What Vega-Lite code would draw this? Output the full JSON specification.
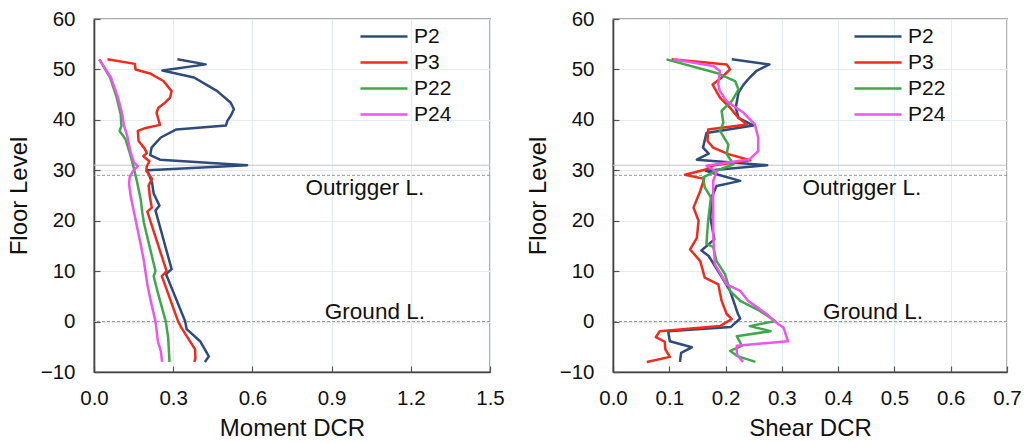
{
  "$schema": "https://vega.github.io/schema/vega-lite/v6.json",
  "background": "white",
  "padding": {"left": 6, "top": 8, "right": 0, "bottom": 2},
  "config": {
    "font": "Liberation Sans",
    "view": {"stroke": "#555555", "strokeWidth": 1.3},
    "axis": {
      "domainColor": "#444444",
      "domainWidth": 1.6,
      "tickColor": "#555555",
      "tickSize": -6,
      "tickWidth": 1.2,
      "gridColor": "#e4eef0",
      "gridWidth": 1,
      "labelFlush": false,
      "labelOverlap": false,
      "labelFontSize": 20.5,
      "labelColor": "#111111",
      "titleFontSize": 24,
      "titleFontWeight": "normal",
      "titleColor": "#111111"
    },
    "legend": {
      "labelFontSize": 21,
      "labelColor": "#111111",
      "symbolType": "M-2.24,0H2.24",
      "symbolSize": 441,
      "symbolStrokeWidth": 2.5,
      "labelOffset": 18,
      "rowPadding": 4,
      "padding": 0
    }
  },
  "datasets": {
    "moment": [
      {"s": "P2", "lv": 52, "v": 0.316}, {"s": "P2", "lv": 51, "v": 0.423}, {"s": "P2", "lv": 49.8, "v": 0.259},
      {"s": "P2", "lv": 48.4, "v": 0.379}, {"s": "P2", "lv": 47, "v": 0.425}, {"s": "P2", "lv": 45.7, "v": 0.467},
      {"s": "P2", "lv": 43.4, "v": 0.518}, {"s": "P2", "lv": 42.1, "v": 0.53}, {"s": "P2", "lv": 40.8, "v": 0.518},
      {"s": "P2", "lv": 39.8, "v": 0.505}, {"s": "P2", "lv": 38.9, "v": 0.5}, {"s": "P2", "lv": 38.1, "v": 0.312},
      {"s": "P2", "lv": 36.5, "v": 0.253}, {"s": "P2", "lv": 34.5, "v": 0.218}, {"s": "P2", "lv": 33, "v": 0.213},
      {"s": "P2", "lv": 32.1, "v": 0.25}, {"s": "P2", "lv": 31, "v": 0.58}, {"s": "P2", "lv": 30, "v": 0.202},
      {"s": "P2", "lv": 27.5, "v": 0.22}, {"s": "P2", "lv": 25.4, "v": 0.226}, {"s": "P2", "lv": 23, "v": 0.248},
      {"s": "P2", "lv": 22, "v": 0.233}, {"s": "P2", "lv": 10.4, "v": 0.294}, {"s": "P2", "lv": 9.4, "v": 0.273},
      {"s": "P2", "lv": 0.1, "v": 0.345}, {"s": "P2", "lv": -1.5, "v": 0.351}, {"s": "P2", "lv": -3.9, "v": 0.402},
      {"s": "P2", "lv": -6.9, "v": 0.435}, {"s": "P2", "lv": -8, "v": 0.42},

      {"s": "P3", "lv": 52, "v": 0.051}, {"s": "P3", "lv": 51.1, "v": 0.155}, {"s": "P3", "lv": 50, "v": 0.157},
      {"s": "P3", "lv": 49.2, "v": 0.212}, {"s": "P3", "lv": 47.7, "v": 0.263}, {"s": "P3", "lv": 45.7, "v": 0.294},
      {"s": "P3", "lv": 44.4, "v": 0.288}, {"s": "P3", "lv": 43.4, "v": 0.269}, {"s": "P3", "lv": 42.4, "v": 0.244},
      {"s": "P3", "lv": 41.4, "v": 0.237}, {"s": "P3", "lv": 40.1, "v": 0.244}, {"s": "P3", "lv": 39, "v": 0.25},
      {"s": "P3", "lv": 38.4, "v": 0.196}, {"s": "P3", "lv": 37.8, "v": 0.166}, {"s": "P3", "lv": 35.8, "v": 0.169},
      {"s": "P3", "lv": 34.3, "v": 0.192}, {"s": "P3", "lv": 33.4, "v": 0.2}, {"s": "P3", "lv": 32.8, "v": 0.187},
      {"s": "P3", "lv": 31.8, "v": 0.21}, {"s": "P3", "lv": 30.8, "v": 0.2}, {"s": "P3", "lv": 29.9, "v": 0.198},
      {"s": "P3", "lv": 28.3, "v": 0.22}, {"s": "P3", "lv": 27, "v": 0.207}, {"s": "P3", "lv": 24.6, "v": 0.212},
      {"s": "P3", "lv": 22.6, "v": 0.219}, {"s": "P3", "lv": 21.8, "v": 0.202}, {"s": "P3", "lv": 10, "v": 0.275},
      {"s": "P3", "lv": 9, "v": 0.257}, {"s": "P3", "lv": 0, "v": 0.319}, {"s": "P3", "lv": -1.3, "v": 0.332},
      {"s": "P3", "lv": -5.5, "v": 0.383}, {"s": "P3", "lv": -7.4, "v": 0.384}, {"s": "P3", "lv": -8, "v": 0.38},

      {"s": "P22", "lv": 52, "v": 0.02}, {"s": "P22", "lv": 48.4, "v": 0.061}, {"s": "P22", "lv": 44.4, "v": 0.086},
      {"s": "P22", "lv": 41.1, "v": 0.101}, {"s": "P22", "lv": 38.8, "v": 0.104}, {"s": "P22", "lv": 37.8, "v": 0.097},
      {"s": "P22", "lv": 36.1, "v": 0.12}, {"s": "P22", "lv": 32.8, "v": 0.139}, {"s": "P22", "lv": 30.2, "v": 0.152},
      {"s": "P22", "lv": 27.5, "v": 0.164}, {"s": "P22", "lv": 24.2, "v": 0.177}, {"s": "P22", "lv": 21.6, "v": 0.183},
      {"s": "P22", "lv": 19.6, "v": 0.189}, {"s": "P22", "lv": 10, "v": 0.233}, {"s": "P22", "lv": 9, "v": 0.226},
      {"s": "P22", "lv": 6.1, "v": 0.24}, {"s": "P22", "lv": 0, "v": 0.272}, {"s": "P22", "lv": -3.2, "v": 0.281},
      {"s": "P22", "lv": -8, "v": 0.286},

      {"s": "P24", "lv": 52, "v": 0.02}, {"s": "P24", "lv": 48.4, "v": 0.064}, {"s": "P24", "lv": 44.4, "v": 0.091},
      {"s": "P24", "lv": 41.1, "v": 0.107}, {"s": "P24", "lv": 38.8, "v": 0.114}, {"s": "P24", "lv": 36.8, "v": 0.126},
      {"s": "P24", "lv": 33.5, "v": 0.139}, {"s": "P24", "lv": 31.5, "v": 0.152}, {"s": "P24", "lv": 30.8, "v": 0.166},
      {"s": "P24", "lv": 29.9, "v": 0.148}, {"s": "P24", "lv": 28.6, "v": 0.135}, {"s": "P24", "lv": 27.2, "v": 0.133},
      {"s": "P24", "lv": 24.9, "v": 0.139}, {"s": "P24", "lv": 21.6, "v": 0.152}, {"s": "P24", "lv": 15.3, "v": 0.177},
      {"s": "P24", "lv": 12, "v": 0.189}, {"s": "P24", "lv": 7.4, "v": 0.202}, {"s": "P24", "lv": 4.1, "v": 0.215},
      {"s": "P24", "lv": 0, "v": 0.233}, {"s": "P24", "lv": -3.9, "v": 0.242}, {"s": "P24", "lv": -5.8, "v": 0.253},
      {"s": "P24", "lv": -8, "v": 0.258}
    ],
    "shear": [
      {"s": "P2", "lv": 52, "v": 0.211}, {"s": "P2", "lv": 51, "v": 0.278}, {"s": "P2", "lv": 49.7, "v": 0.255},
      {"s": "P2", "lv": 48.4, "v": 0.243}, {"s": "P2", "lv": 47, "v": 0.232}, {"s": "P2", "lv": 45.4, "v": 0.223},
      {"s": "P2", "lv": 42.4, "v": 0.218}, {"s": "P2", "lv": 40.4, "v": 0.223}, {"s": "P2", "lv": 38.9, "v": 0.249},
      {"s": "P2", "lv": 37.4, "v": 0.166}, {"s": "P2", "lv": 34.5, "v": 0.16}, {"s": "P2", "lv": 33.3, "v": 0.17},
      {"s": "P2", "lv": 32.1, "v": 0.149}, {"s": "P2", "lv": 31, "v": 0.274}, {"s": "P2", "lv": 29.9, "v": 0.165},
      {"s": "P2", "lv": 29.2, "v": 0.184}, {"s": "P2", "lv": 27.9, "v": 0.226}, {"s": "P2", "lv": 26.9, "v": 0.184},
      {"s": "P2", "lv": 24.6, "v": 0.175}, {"s": "P2", "lv": 20.6, "v": 0.173}, {"s": "P2", "lv": 16.3, "v": 0.18},
      {"s": "P2", "lv": 14.1, "v": 0.157}, {"s": "P2", "lv": 13, "v": 0.17}, {"s": "P2", "lv": 9.4, "v": 0.19},
      {"s": "P2", "lv": 6.1, "v": 0.208}, {"s": "P2", "lv": 1.5, "v": 0.222}, {"s": "P2", "lv": 0.6, "v": 0.226},
      {"s": "P2", "lv": -1.1, "v": 0.209}, {"s": "P2", "lv": -1.9, "v": 0.098}, {"s": "P2", "lv": -3.9, "v": 0.101},
      {"s": "P2", "lv": -5.1, "v": 0.14}, {"s": "P2", "lv": -6.2, "v": 0.121}, {"s": "P2", "lv": -8, "v": 0.119},

      {"s": "P3", "lv": 52, "v": 0.104}, {"s": "P3", "lv": 51, "v": 0.202}, {"s": "P3", "lv": 50, "v": 0.208},
      {"s": "P3", "lv": 48.4, "v": 0.193}, {"s": "P3", "lv": 47, "v": 0.177}, {"s": "P3", "lv": 44.4, "v": 0.19},
      {"s": "P3", "lv": 42.4, "v": 0.208}, {"s": "P3", "lv": 40.4, "v": 0.223}, {"s": "P3", "lv": 39.1, "v": 0.238},
      {"s": "P3", "lv": 38.1, "v": 0.169}, {"s": "P3", "lv": 35.8, "v": 0.168}, {"s": "P3", "lv": 34.5, "v": 0.178},
      {"s": "P3", "lv": 33.2, "v": 0.205}, {"s": "P3", "lv": 32, "v": 0.244}, {"s": "P3", "lv": 31, "v": 0.18},
      {"s": "P3", "lv": 30.1, "v": 0.163}, {"s": "P3", "lv": 29.1, "v": 0.128}, {"s": "P3", "lv": 28.3, "v": 0.162},
      {"s": "P3", "lv": 25.9, "v": 0.155}, {"s": "P3", "lv": 22.6, "v": 0.143}, {"s": "P3", "lv": 20, "v": 0.152},
      {"s": "P3", "lv": 16.6, "v": 0.149}, {"s": "P3", "lv": 14.3, "v": 0.137}, {"s": "P3", "lv": 12, "v": 0.155},
      {"s": "P3", "lv": 8.7, "v": 0.163}, {"s": "P3", "lv": 7.4, "v": 0.187}, {"s": "P3", "lv": 4.1, "v": 0.193},
      {"s": "P3", "lv": 1.5, "v": 0.202}, {"s": "P3", "lv": 0.5, "v": 0.211}, {"s": "P3", "lv": -0.9, "v": 0.19},
      {"s": "P3", "lv": -1.9, "v": 0.083}, {"s": "P3", "lv": -3.1, "v": 0.076}, {"s": "P3", "lv": -4, "v": 0.092},
      {"s": "P3", "lv": -5.5, "v": 0.093}, {"s": "P3", "lv": -7, "v": 0.101}, {"s": "P3", "lv": -8, "v": 0.06},

      {"s": "P22", "lv": 52, "v": 0.095}, {"s": "P22", "lv": 49.3, "v": 0.184}, {"s": "P22", "lv": 47.7, "v": 0.217},
      {"s": "P22", "lv": 46, "v": 0.223}, {"s": "P22", "lv": 43.7, "v": 0.211}, {"s": "P22", "lv": 41.8, "v": 0.193},
      {"s": "P22", "lv": 39.4, "v": 0.196}, {"s": "P22", "lv": 37.8, "v": 0.19}, {"s": "P22", "lv": 35.1, "v": 0.205},
      {"s": "P22", "lv": 33.2, "v": 0.202}, {"s": "P22", "lv": 31.2, "v": 0.214}, {"s": "P22", "lv": 29.9, "v": 0.184},
      {"s": "P22", "lv": 28.6, "v": 0.16}, {"s": "P22", "lv": 26.6, "v": 0.163}, {"s": "P22", "lv": 24.6, "v": 0.174},
      {"s": "P22", "lv": 20, "v": 0.169}, {"s": "P22", "lv": 15.4, "v": 0.166}, {"s": "P22", "lv": 14.8, "v": 0.178},
      {"s": "P22", "lv": 12, "v": 0.184}, {"s": "P22", "lv": 9.4, "v": 0.199}, {"s": "P22", "lv": 6.1, "v": 0.208},
      {"s": "P22", "lv": 4.1, "v": 0.226}, {"s": "P22", "lv": 2.1, "v": 0.261}, {"s": "P22", "lv": 0.1, "v": 0.288},
      {"s": "P22", "lv": -0.9, "v": 0.243}, {"s": "P22", "lv": -1.9, "v": 0.28}, {"s": "P22", "lv": -2.9, "v": 0.22},
      {"s": "P22", "lv": -4.8, "v": 0.229}, {"s": "P22", "lv": -5.8, "v": 0.208}, {"s": "P22", "lv": -6.8, "v": 0.22},
      {"s": "P22", "lv": -8, "v": 0.253},

      {"s": "P24", "lv": 52, "v": 0.107}, {"s": "P24", "lv": 50.7, "v": 0.178}, {"s": "P24", "lv": 49.7, "v": 0.19},
      {"s": "P24", "lv": 47, "v": 0.187}, {"s": "P24", "lv": 45.7, "v": 0.19}, {"s": "P24", "lv": 43.7, "v": 0.202},
      {"s": "P24", "lv": 41.4, "v": 0.232}, {"s": "P24", "lv": 39.1, "v": 0.252}, {"s": "P24", "lv": 36.5, "v": 0.258},
      {"s": "P24", "lv": 33.8, "v": 0.258}, {"s": "P24", "lv": 32.2, "v": 0.243}, {"s": "P24", "lv": 30.9, "v": 0.166},
      {"s": "P24", "lv": 29.7, "v": 0.184}, {"s": "P24", "lv": 27.9, "v": 0.178}, {"s": "P24", "lv": 24.6, "v": 0.178},
      {"s": "P24", "lv": 17.4, "v": 0.178}, {"s": "P24", "lv": 11.4, "v": 0.181}, {"s": "P24", "lv": 7.4, "v": 0.202},
      {"s": "P24", "lv": 6.1, "v": 0.226}, {"s": "P24", "lv": 4.1, "v": 0.24}, {"s": "P24", "lv": 1.5, "v": 0.273},
      {"s": "P24", "lv": -0.3, "v": 0.291}, {"s": "P24", "lv": -1.2, "v": 0.303}, {"s": "P24", "lv": -3.9, "v": 0.311},
      {"s": "P24", "lv": -4.8, "v": 0.22}, {"s": "P24", "lv": -6.5, "v": 0.22}, {"s": "P24", "lv": -8, "v": 0.231}
    ],
    "refs": [
      {"lv": 31, "kind": "solid"},
      {"lv": 29, "kind": "dash"},
      {"lv": 0, "kind": "dash"}
    ],
    "notes": [
      {"panel": "m", "label": "Outrigger L.", "x": 1.026, "y": 26.5},
      {"panel": "m", "label": "Ground L.", "x": 1.064, "y": 1.9},
      {"panel": "s", "label": "Outrigger L.", "x": 0.442, "y": 26.5},
      {"panel": "s", "label": "Ground L.", "x": 0.462, "y": 1.9}
    ]
  },
  "spacing": 20,
  "resolve": {"legend": {"color": "independent"}},
  "hconcat": [
    {
      "width": 396,
      "height": 353,
      "layer": [
        {
          "data": {"name": "refs"},
          "transform": [{"filter": "datum.kind === 'solid'"}],
          "mark": {"type": "rule", "color": "#c4c4c4", "strokeWidth": 1.2},
          "encoding": {"y": {"field": "lv", "type": "quantitative"}}
        },
        {
          "data": {"name": "refs"},
          "transform": [{"filter": "datum.kind === 'dash'"}],
          "mark": {"type": "rule", "color": "#8a8a8a", "strokeWidth": 0.9, "strokeDash": [3, 2]},
          "encoding": {"y": {"field": "lv", "type": "quantitative"}}
        },
        {
          "data": {"name": "moment"},
          "mark": {"type": "line", "strokeWidth": 2.5, "strokeJoin": "round"},
          "encoding": {
            "x": {
              "field": "v", "type": "quantitative",
              "scale": {"domain": [0, 1.5], "nice": false, "zero": false},
              "axis": {"values": [0, 0.3, 0.6, 0.9, 1.2, 1.5], "format": ".1f", "title": "Moment DCR", "labelPadding": 22, "titlePadding": 8, "grid": true}
            },
            "y": {
              "field": "lv", "type": "quantitative",
              "scale": {"domain": [-10, 60], "nice": false, "zero": false},
              "axis": {"values": [-10, -5, 0, 5, 10, 15, 20, 25, 30, 35, 40, 45, 50, 55, 60], "labelExpr": "datum.value % 10 === 0 ? datum.label : ''", "title": "Floor Level", "labelPadding": 25, "titlePadding": 9, "grid": true}
            },
            "color": {
              "field": "s", "type": "nominal",
              "scale": {"domain": ["P2", "P3", "P22", "P24"], "range": ["#2f4b7c", "#ef2b1d", "#3fa84b", "#ee55ee"]},
              "legend": {"title": null, "orient": "none", "legendX": 278, "legendY": 5.5}
            },
            "order": {"field": "lv", "type": "quantitative"}
          }
        },
        {
          "data": {"name": "notes"},
          "transform": [{"filter": "datum.panel === 'm'"}],
          "mark": {"type": "text", "fontSize": 22.5, "color": "#111111", "align": "center", "baseline": "middle"},
          "encoding": {
            "x": {"field": "x", "type": "quantitative"},
            "y": {"field": "y", "type": "quantitative"},
            "text": {"field": "label"}
          }
        }
      ]
    },
    {
      "width": 394,
      "height": 353,
      "layer": [
        {
          "data": {"name": "refs"},
          "transform": [{"filter": "datum.kind === 'solid'"}],
          "mark": {"type": "rule", "color": "#c4c4c4", "strokeWidth": 1.2},
          "encoding": {"y": {"field": "lv", "type": "quantitative"}}
        },
        {
          "data": {"name": "refs"},
          "transform": [{"filter": "datum.kind === 'dash'"}],
          "mark": {"type": "rule", "color": "#8a8a8a", "strokeWidth": 0.9, "strokeDash": [3, 2]},
          "encoding": {"y": {"field": "lv", "type": "quantitative"}}
        },
        {
          "data": {"name": "shear"},
          "mark": {"type": "line", "strokeWidth": 2.5, "strokeJoin": "round"},
          "encoding": {
            "x": {
              "field": "v", "type": "quantitative",
              "scale": {"domain": [0, 0.7], "nice": false, "zero": false},
              "axis": {"values": [0, 0.1, 0.2, 0.3, 0.4, 0.5, 0.6, 0.7], "format": ".1f", "title": "Shear DCR", "labelPadding": 22, "titlePadding": 8, "grid": true}
            },
            "y": {
              "field": "lv", "type": "quantitative",
              "scale": {"domain": [-10, 60], "nice": false, "zero": false},
              "axis": {"values": [-10, -5, 0, 5, 10, 15, 20, 25, 30, 35, 40, 45, 50, 55, 60], "labelExpr": "datum.value % 10 === 0 ? datum.label : ''", "title": "Floor Level", "labelPadding": 25, "titlePadding": 9, "grid": true}
            },
            "color": {
              "field": "s", "type": "nominal",
              "scale": {"domain": ["P2", "P3", "P22", "P24"], "range": ["#2f4b7c", "#ef2b1d", "#3fa84b", "#ee55ee"]},
              "legend": {"title": null, "orient": "none", "legendX": 253, "legendY": 5.5}
            },
            "order": {"field": "lv", "type": "quantitative"}
          }
        },
        {
          "data": {"name": "notes"},
          "transform": [{"filter": "datum.panel === 's'"}],
          "mark": {"type": "text", "fontSize": 22.5, "color": "#111111", "align": "center", "baseline": "middle"},
          "encoding": {
            "x": {"field": "x", "type": "quantitative"},
            "y": {"field": "y", "type": "quantitative"},
            "text": {"field": "label"}
          }
        }
      ]
    }
  ]
}
